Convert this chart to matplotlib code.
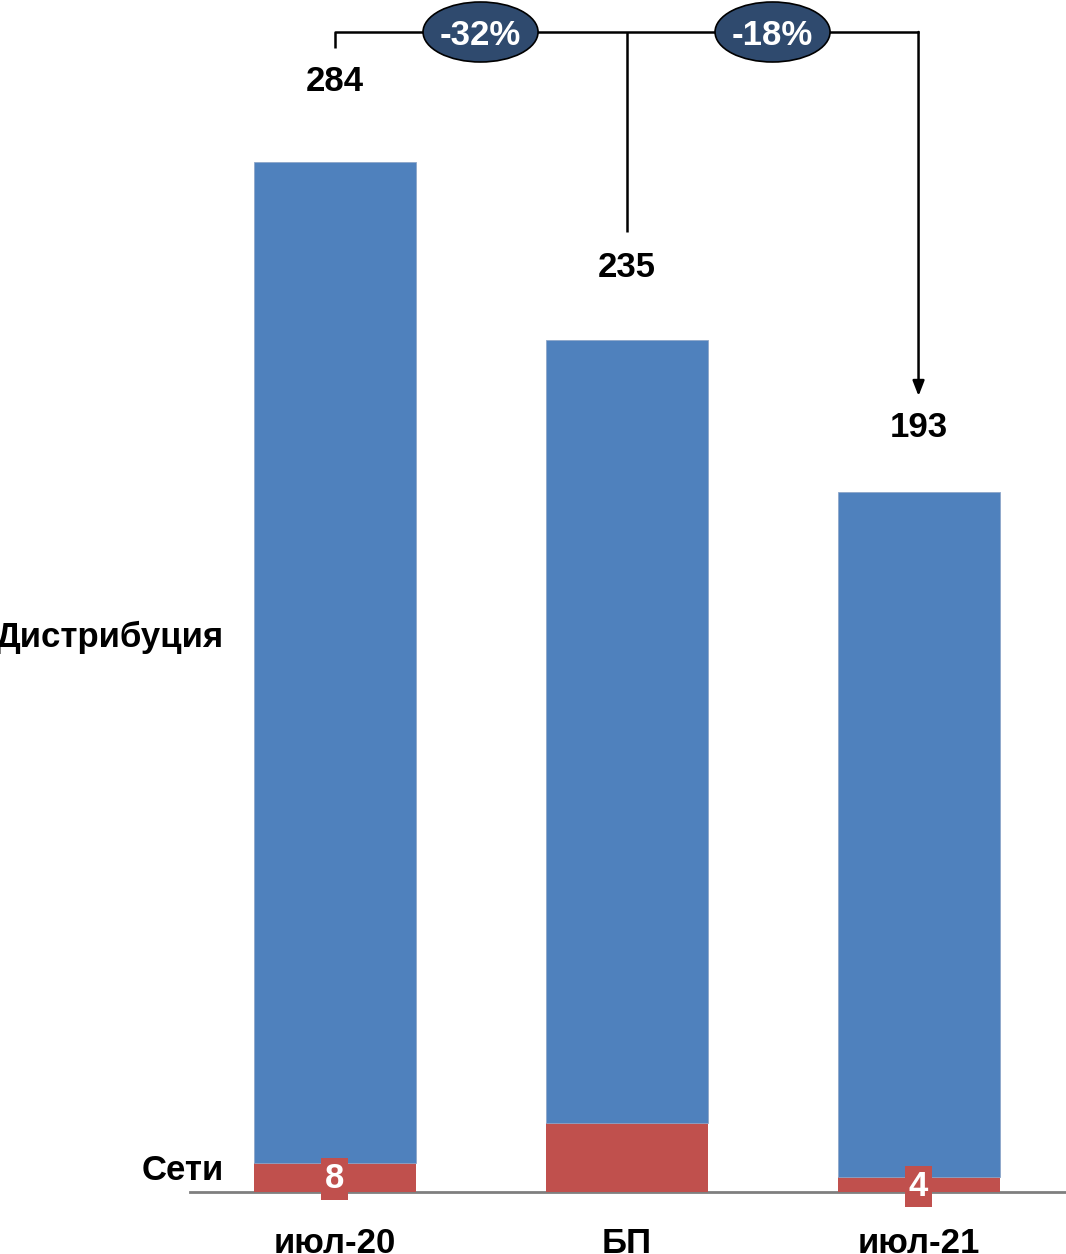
import matplotlib
matplotlib.use("Agg")
import matplotlib.pyplot as plt
from matplotlib.patches import Ellipse
from matplotlib.transforms import blended_transform_factory

plt.rcParams['font.family'] = ['Liberation Sans', 'DejaVu Sans']

categories = ["июл-20", "БП", "июл-21"]
seti = [8, 19, 4]
totals = [284, 235, 193]
distrib = [t - s for t, s in zip(totals, seti)]
seti_labels = ["8", "", "4"]
changes = ["-32%", "-18%"]
series_names = ["Дистрибуция", "Сети"]

blue = "#4F81BD"
red = "#C0504D"
navy = "#2F4A6E"
FS = 25

fig = plt.figure(figsize=(10.66, 12.54), dpi=100)
W, H = 1066, 1254
ax = fig.add_axes([190 / W, (H - 1192) / H, (1066 - 190) / W, 1192 / H])
ax.set_xlim(-0.495, 2.505)
ax.set_ylim(0, 1192 / 3.627)

x = list(range(len(categories)))
ax.bar(x, seti, width=0.555, color=red, zorder=2)
ax.bar(x, distrib, bottom=seti, width=0.555, color=blue, zorder=2,
       edgecolor="#8DA6C9", linewidth=0.6)

for s in ["top", "right", "left"]:
    ax.spines[s].set_visible(False)
ax.spines["bottom"].set_color("#7F7F7F")
ax.spines["bottom"].set_linewidth(2)
ax.spines["bottom"].set_zorder(1)
ax.set_yticks([])
ax.set_xticks([])

tr = blended_transform_factory(ax.transData, ax.transAxes)
for xi, c in zip(x, categories):
    ax.text(xi, -0.043, c, transform=tr, ha="center", va="center",
            fontsize=FS, fontweight="bold", clip_on=False)

# total labels
label_offsets = [22.2, 19.8, 17.9]
for xi, t, off in zip(x, totals, label_offsets):
    ax.text(xi, t + off, str(t), ha="center", va="center",
            fontsize=FS, fontweight="bold")

# seti labels with red boxes
seti_label_y = [3.6, 0, 1.6]
for xi, lab, yy in zip(x, seti_labels, seti_label_y):
    if lab:
        ax.text(xi, yy, lab, ha="center", va="center", fontsize=FS,
                fontweight="bold", color="white", zorder=5,
                bbox=dict(boxstyle="square,pad=0.12", fc=red, ec="none"),
                clip_on=False)

# series labels on the left
ax.text(-0.38, (1192 - 637) / 3.627, series_names[0], ha="right", va="center",
        fontsize=FS, fontweight="bold", clip_on=False)
ax.text(-0.38, (1192 - 1170) / 3.627, series_names[1], ha="right", va="center",
        fontsize=FS, fontweight="bold", clip_on=False)

# bracket
ytop = (1192 - 32) / 3.627
lw = 1.8
ax.plot([0, 0, 2], [(1192 - 48) / 3.627, ytop, ytop], color="black", lw=lw,
        zorder=3, clip_on=False, solid_capstyle="butt")
ax.plot([1, 1], [ytop, (1192 - 232) / 3.627], color="black", lw=lw, zorder=3,
        solid_capstyle="butt")
ax.annotate("", xy=(2, (1192 - 396) / 3.627), xytext=(2, ytop),
            arrowprops=dict(arrowstyle="-|>,head_length=0.9,head_width=0.35",
                            color="black", lw=lw, shrinkA=0, shrinkB=0))

for xc, txt in zip([0.5, 1.5], changes):
    e = Ellipse((xc, ytop), width=115 / 292, height=60 / 3.627, fc=navy,
                ec="black", lw=1.2, zorder=4, clip_on=False)
    ax.add_patch(e)
    ax.text(xc, ytop - 0.9, txt, ha="center", va="center", fontsize=FS,
            fontweight="bold", color="white", zorder=5)

fig.savefig("out.png", dpi=100)
